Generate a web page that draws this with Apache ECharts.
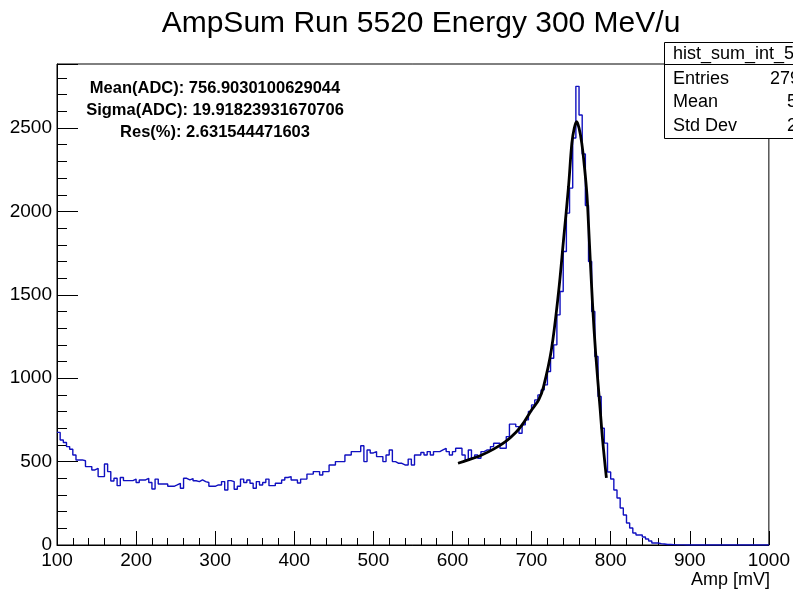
<!DOCTYPE html>
<html>
<head>
<meta charset="utf-8">
<script src="https://cdn.jsdelivr.net/npm/echarts@6/dist/echarts.min.js"></script>
<style>
html,body{margin:0;padding:0;background:#fff;}
#c{width:793px;height:592px;}
</style>
</head>
<body>
<div id="c"></div>
<script>
// ---- data ----
const binStart = 100;      // mV, first bin edge
const binWidth = 4;        // mV per bin
const counts = [
  675,630,615,590,574,540,510,510,505,470,470,450,460,410,410,486,440,384,400,356,405,386,386,386,395,
  375,390,390,400,375,336,395,366,366,366,352,352,360,370,340,400,390,398,385,380,390,380,375,352,352,
  360,360,380,330,386,380,334,352,395,375,390,370,340,380,360,375,395,356,356,370,370,390,405,410,390,
  390,372,395,395,425,425,440,440,420,440,440,480,480,500,500,500,540,540,560,560,560,595,500,570,552,
  560,530,530,500,540,570,500,490,490,480,480,515,480,540,540,555,540,560,540,560,560,570,580,560,540,
  560,580,580,540,510,570,520,540,520,560,570,570,590,610,610,580,580,650,725,725,710,670,720,750,800,
  840,870,900,930,960,1040,1120,1200,1380,1520,1760,1990,2140,2440,2750,2578,2344,2036,1700,1400,1130,890,700,611,438,
  396,330,282,222,180,132,102,72,60,60,48,36,24,12,12,8,6,3,3,2,1,1,1,0,1,
  0,0,0,0,0,0,0,0,0,0,0,0,0,0,0,0,0,0,0,0,0,0,0,0,0
];
const fitX = [607, 620, 637, 652, 667, 680, 688, 700, 709, 715, 725, 734, 740.4, 746.7, 750.9, 754, 757, 760, 763.5, 767, 770, 772, 777, 781, 786.6, 790, 794.6];
const fitY = [490, 510, 540, 575, 620, 675, 720, 809, 870, 947, 1169, 1511, 1829, 2148, 2408, 2500, 2538, 2500, 2408, 2260, 2100, 1920, 1450, 1150, 820, 620, 402];
const xTicks = [100, 200, 300, 400, 500, 600, 700, 800, 900, 1000];
const yTicks = [0, 500, 1000, 1500, 2000, 2500];
const titleText = 'AmpSum Run 5520 Energy 300 MeV/u';
const fitLines = ['Mean(ADC): 756.9030100629044', 'Sigma(ADC): 19.91823931670706', 'Res(%): 2.631544471603'];
const statsName = 'hist_sum_int_5520';
const statsLabels = ['Entries', 'Mean', 'Std Dev'];
const statsValues = ['27945', '563.4', '205.1'];
const xName = 'Amp [mV]';

// ---- build series ----
const histData = counts.map((v, i) => [binStart + i * binWidth, v]);
histData.push([binStart + counts.length * binWidth, counts[counts.length - 1]]);
const fitData = fitX.map((x, i) => [x, fitY[i]]);

const FF = '"Liberation Sans", Arial, Helvetica, sans-serif';
const chart = echarts.init(document.getElementById('c'), null, {renderer: 'canvas'});

function txt(text, x, y, font, align, valign) {
  return {type: 'text', x: x, y: y, z: 100,
    style: {text: text, font: font, fill: '#000', textAlign: align, align: align,
            textVerticalAlign: valign, verticalAlign: valign}};
}

const graphics = [];
graphics.push(txt(titleText, 421, 24, '30px ' + FF, 'center', 'middle'));
fitLines.forEach((t, i) => graphics.push(txt(t, 215, 88 + i * 22, 'bold 16.5px ' + FF, 'center', 'middle')));
graphics.push(txt(xName, 770, 580, '18px ' + FF, 'right', 'middle'));
// stats box
graphics.push({type: 'rect', z: 90, shape: {x: 664.5, y: 42.5, width: 200, height: 96},
  style: {fill: '#fff', stroke: '#000', lineWidth: 1}});
graphics.push({type: 'line', z: 91, shape: {x1: 664.5, y1: 64.5, x2: 800, y2: 64.5},
  style: {stroke: '#000', lineWidth: 1}});
graphics.push(txt(statsName, 673, 54, '18px ' + FF, 'left', 'middle'));
statsLabels.forEach((t, i) => {
  graphics.push(txt(t, 673, 79 + i * 23.5, '18px ' + FF, 'left', 'middle'));
});
graphics.push(txt(statsValues[0], 770, 79, '18px ' + FF, 'left', 'middle'));
graphics.push(txt(statsValues[1], 787, 102.5, '18px ' + FF, 'left', 'middle'));
graphics.push(txt(statsValues[2], 787, 126, '18px ' + FF, 'left', 'middle'));

const axisCommon = {
  type: 'value',
  splitLine: {show: false},
  axisLine: {show: true, onZero: false, lineStyle: {color: '#000', width: 1}},
};

const option = {
  animation: false,
  backgroundColor: '#fff',
  grid: {left: 57, right: 22, top: 64, bottom: 47, show: true, borderColor: '#000', borderWidth: 1, backgroundColor: 'transparent'},
  xAxis: [
    Object.assign({}, axisCommon, {
      min: xTicks[0], max: xTicks[xTicks.length - 1], interval: 100, position: 'bottom',
      axisTick: {show: true, inside: true, length: 14, lineStyle: {color: '#000'}},
      axisLabel: {show: true, color: '#000', fontSize: 19, fontFamily: FF, margin: 6,
        formatter: v => (xTicks.indexOf(v) >= 0 ? String(v) : '')}
    }),
    Object.assign({}, axisCommon, {
      min: xTicks[0], max: xTicks[xTicks.length - 1], interval: 20, position: 'bottom',
      axisLine: {show: false},
      axisTick: {show: true, inside: true, length: 7, lineStyle: {color: '#000'}},
      axisLabel: {show: false}
    })
  ],
  yAxis: [
    Object.assign({}, axisCommon, {
      min: 0, max: 2884, interval: 500, position: 'left',
      axisTick: {show: true, inside: true, length: 21, lineStyle: {color: '#000'}},
      axisLabel: {show: true, color: '#000', fontSize: 19, fontFamily: FF, margin: 5,
        formatter: v => (yTicks.indexOf(v) >= 0 ? String(v) : '')}
    }),
    Object.assign({}, axisCommon, {
      min: 0, max: 2884, interval: 100, position: 'left',
      axisLine: {show: false},
      axisTick: {show: true, inside: true, length: 10, lineStyle: {color: '#000'}},
      axisLabel: {show: false}
    })
  ],
  series: [
    {type: 'line', name: 'hist', xAxisIndex: 0, yAxisIndex: 0, data: histData, step: 'end',
      showSymbol: false, symbol: 'none', lineStyle: {color: '#1010c0', width: 1.4}, z: 3, clip: true},
    {type: 'line', name: 'fit', xAxisIndex: 0, yAxisIndex: 0, data: fitData, smooth: 0.35,
      showSymbol: false, symbol: 'none', lineStyle: {color: '#000', width: 2.8}, z: 4}
  ],
  graphic: graphics
};
chart.setOption(option);
</script>
</body>
</html>
